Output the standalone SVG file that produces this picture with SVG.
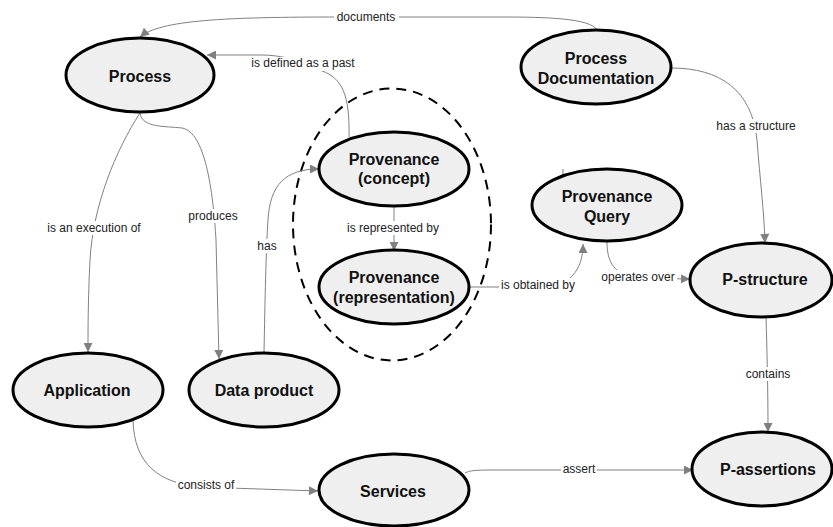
<svg xmlns="http://www.w3.org/2000/svg" width="833" height="527" viewBox="0 0 833 527">
<style>
.node ellipse{fill:#efefef;stroke:#000;stroke-width:3}
.node text{font-family:"Liberation Sans",Arial,sans-serif;font-weight:bold;font-size:16px;fill:#111;text-anchor:middle}
.edge{fill:none;stroke:#808080;stroke-width:1}
.arr{marker-end:url(#ah)}
.lbl rect{fill:#fff}
.lbl text{font-family:"Liberation Sans",Arial,sans-serif;font-size:12px;fill:#222;text-anchor:middle}
</style>
<defs>
<marker id="ah" viewBox="0 0 10 10" refX="10" refY="5" markerWidth="10" markerHeight="9" markerUnits="userSpaceOnUse" orient="auto">
<path d="M0,0 L10,5 L0,10 z" fill="#808080"/>
</marker>
</defs>
<rect width="833" height="527" fill="#fff"/>
<ellipse id="group-boundary" cx="392" cy="224.5" rx="99" ry="136" fill="none" stroke="#000" stroke-width="2" stroke-dasharray="10 7"/>
<g id="connectors">
<path class="edge arr" d="M597,30 C590,18 545,17 500,17 L340,17 C225,17 160,20 140,37"/>
<path class="edge arr" d="M349,137 C350,95 342,78 322,71 C300,60 280,55 262,55 L207,55"/>
<path class="edge arr" d="M140,113 C116,150 93,205 90,260 C88,300 88,330 88,352"/>
<path class="edge arr" d="M140,113 C142,128 165,126 182,128 C205,132 213,190 216,240 L219,359"/>
<path class="edge arr" d="M264,353 C265,300 266,250 268,220 C270,185 285,169 319,169"/>
<path class="edge arr" d="M394,206 L394,251" stroke-width="1.5"/>
<path class="edge arr" d="M469,287 L540,287 C570,287 583,270 583,244"/>
<path class="edge" d="M563,169 L563,177"/>
<path class="edge arr" d="M607,242 C607,262 614,276 640,278 L690,279"/>
<path class="edge arr" d="M671,68 C720,68 752,90 757,140 C760,180 764,210 765,243"/>
<path class="edge arr" d="M766,317 C767,350 768,390 768,432"/>
<path class="edge arr" d="M133,420 C134,465 160,483 200,487 L318,491"/>
<path class="edge arr" d="M465,473 C470,470 480,470 500,470 L693,470"/>
<g class="lbl"><rect x="334" y="11" width="65" height="13"/><text x="366" y="21">documents</text></g>
<g class="lbl"><rect x="249" y="57" width="109" height="14"/><text x="303" y="67">is defined as a past</text></g>
<g class="lbl"><rect x="46" y="221" width="98" height="14"/><text x="94" y="232">is an execution of</text></g>
<g class="lbl"><rect x="187" y="209" width="52" height="14"/><text x="213" y="220">produces</text></g>
<g class="lbl"><rect x="257" y="239" width="21" height="14"/><text x="267" y="250">has</text></g>
<g class="lbl"><rect x="346" y="221" width="97" height="14"/><text x="393" y="232">is represented by</text></g>
<g class="lbl"><rect x="499" y="278" width="78" height="14"/><text x="538" y="289">is obtained by</text></g>
<g class="lbl"><rect x="600" y="270" width="77" height="14"/><text x="638" y="281">operates over</text></g>
<g class="lbl"><rect x="714" y="119" width="84" height="14"/><text x="756" y="130">has a structure</text></g>
<g class="lbl"><rect x="744" y="367" width="48" height="14"/><text x="768" y="378">contains</text></g>
<g class="lbl"><rect x="176" y="478" width="60" height="14"/><text x="206" y="489">consists of</text></g>
<g class="lbl"><rect x="561" y="464" width="36" height="13"/><text x="579" y="473">assert</text></g>
</g>
<g id="process" class="node"><ellipse cx="140" cy="75" rx="74" ry="37"/><text x="140" y="82">Process</text></g>
<g id="process-documentation" class="node"><ellipse cx="596" cy="67" rx="75" ry="37"/><text x="596" y="64">Process</text><text x="596" y="84">Documentation</text></g>
<g id="provenance-concept" class="node"><ellipse cx="394" cy="169" rx="75" ry="37"/><text x="394" y="165">Provenance</text><text x="394" y="184">(concept)</text></g>
<g id="provenance-representation" class="node"><ellipse cx="394" cy="287" rx="75" ry="37"/><text x="394" y="283">Provenance</text><text x="394" y="303">(representation)</text></g>
<g id="provenance-query" class="node"><ellipse cx="607" cy="205" rx="75" ry="36"/><text x="607" y="202">Provenance</text><text x="607" y="222">Query</text></g>
<g id="p-structure" class="node"><ellipse cx="761" cy="280" rx="71" ry="37"/><text x="765" y="285">P-structure</text></g>
<g id="application" class="node"><ellipse cx="88" cy="390" rx="75" ry="37"/><text x="87" y="396">Application</text></g>
<g id="data-product" class="node"><ellipse cx="264" cy="390" rx="75" ry="37"/><text x="264" y="396">Data product</text></g>
<g id="services" class="node"><ellipse cx="394" cy="490" rx="75" ry="36"/><text x="393" y="497">Services</text></g>
<g id="p-assertions" class="node"><ellipse cx="762" cy="469" rx="70" ry="37"/><text x="768" y="475">P-assertions</text></g>
</svg>
